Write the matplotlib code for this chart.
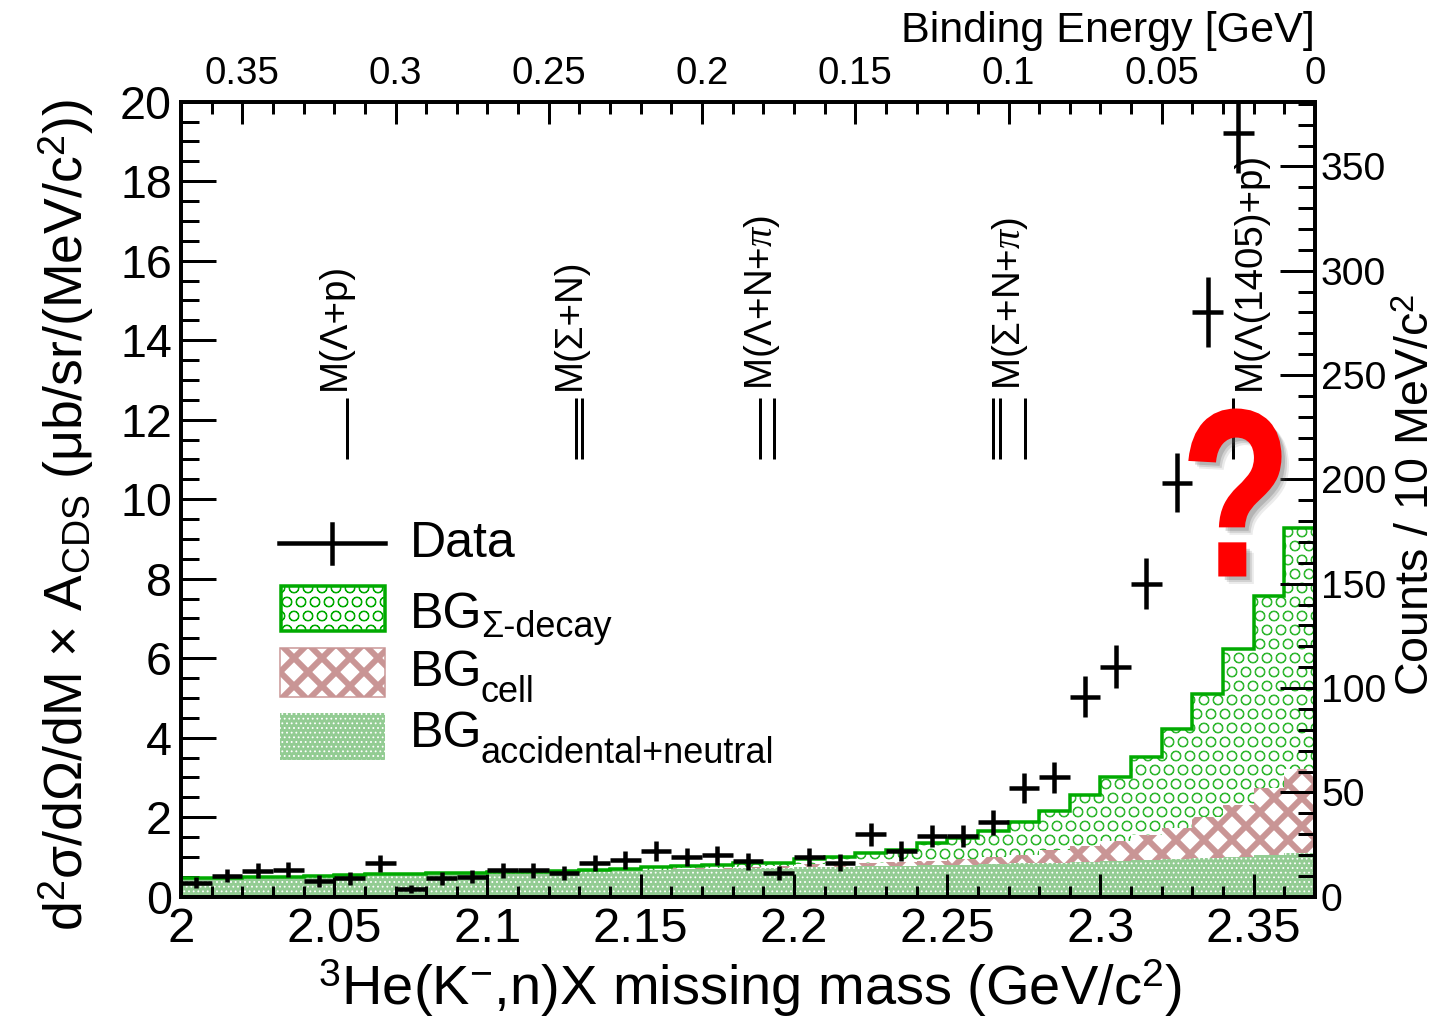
import numpy as np
import matplotlib
matplotlib.use("Agg")
import matplotlib.pyplot as plt
from matplotlib.ticker import MultipleLocator, FuncFormatter
from matplotlib.patches import Rectangle, PathPatch
from matplotlib.lines import Line2D
from matplotlib.textpath import TextPath
from matplotlib.font_manager import FontProperties
from matplotlib.transforms import Affine2D

# ---------------- data ----------------
bin_edges = np.round(np.linspace(2.00, 2.37, 38), 3)      # 10 MeV bins
data_vals = [0.35, 0.53, 0.65, 0.68, 0.40, 0.46, 0.84, 0.19, 0.46, 0.50,
             0.67, 0.67, 0.60, 0.85, 0.92, 1.16, 1.00, 1.04, 0.89, 0.59,
             1.00, 0.86, 1.57, 1.15, 1.52, 1.52, 1.87, 2.74, 3.00, 5.03,
             5.79, 7.87, 10.42, 14.72, 19.20]
data_errs = [0.14, 0.17, 0.19, 0.19, 0.15, 0.16, 0.21, 0.10, 0.16, 0.16,
             0.19, 0.19, 0.18, 0.21, 0.22, 0.25, 0.23, 0.23, 0.22, 0.18,
             0.23, 0.21, 0.29, 0.25, 0.28, 0.28, 0.31, 0.38, 0.40, 0.52,
             0.55, 0.64, 0.74, 0.88, 1.00]
bin_half_width = 0.005

bg_accidental = [0.46, 0.46, 0.47, 0.48, 0.52, 0.53, 0.54, 0.56, 0.57, 0.58,
                 0.60, 0.61, 0.62, 0.64, 0.66, 0.67, 0.69, 0.70, 0.71, 0.72,
                 0.74, 0.75, 0.76, 0.78, 0.79, 0.81, 0.82, 0.84, 0.86, 0.88,
                 0.90, 0.93, 0.95, 0.98, 1.01, 1.05, 1.10]
bg_cell = [0.00, 0.00, 0.00, 0.00, 0.00, 0.00, 0.00, 0.00, 0.00, 0.00,
           0.00, 0.00, 0.00, 0.00, 0.00, 0.01, 0.02, 0.03, 0.04, 0.06,
           0.08, 0.09, 0.10, 0.10, 0.10, 0.14, 0.17, 0.21, 0.31, 0.40,
           0.51, 0.62, 0.79, 1.03, 1.30, 1.68, 2.11]
bg_sigma = [0.02, 0.02, 0.02, 0.02, 0.01, 0.02, 0.02, 0.02, 0.02, 0.02,
            0.02, 0.02, 0.03, 0.03, 0.03, 0.06, 0.05, 0.07, 0.09, 0.08,
            0.13, 0.17, 0.24, 0.30, 0.47, 0.52, 0.67, 0.84, 0.99, 1.29,
            1.59, 1.97, 2.49, 3.10, 3.92, 4.84, 6.07]

threshold_groups = [[2.0540], [2.1289, 2.1309], [2.1890, 2.1935],
                    [2.2650, 2.2672, 2.2753], [2.3433]]
threshold_labels = ["M(Λ+p)", "M(Σ+N)", r"M(Λ+N+$\pi$)", r"M(Σ+N+$\pi$)",
                    "M(Λ(1405)+p)"]
threshold_label_x = [2.0503, 2.1270, 2.1896, 2.2705, 2.3488]

be_zero_mass = 2.37          # binding energy = 2.37 - M
counts_per_unit = 19.05      # right axis scale factor

# ---------------- style ----------------
W, H, DPI = 1443, 1017, 84
plt.rcParams['font.family'] = ['Liberation Sans', 'DejaVu Sans']
plt.rcParams['mathtext.fontset'] = 'custom'
plt.rcParams['mathtext.rm'] = 'Liberation Sans'
plt.rcParams['mathtext.it'] = 'Liberation Serif:italic'
plt.rcParams['mathtext.bf'] = 'Liberation Sans:bold'
plt.rcParams['mathtext.sf'] = 'Liberation Sans'


def pt(px):
    return px * 72.0 / DPI


def fx(px):
    return px / W


def fy(py):
    return 1 - py / H


def hatch_lw(artist, lw):
    if hasattr(artist, 'set_hatch_linewidth'):
        artist.set_hatch_linewidth(lw)
    return artist


GREEN_LINE = '#00aa00'
GREEN_CIRC = '#33b833'
PINK = '#c99595'
ACC_FACE = '#93cc93'

LW_DOTS, LW_CROSS, LW_CIRC = pt(1.0), pt(6.0), pt(1.1)

fig = plt.figure(figsize=(W / DPI, H / DPI), dpi=DPI)
ax = fig.add_axes([fx(181), fy(896.7), (1315 - 181) / W, (896.7 - 101.7) / H])

edges = np.array(bin_edges)
acc = np.array(bg_accidental)
cell_top = acc + np.array(bg_cell)
total = cell_top + np.array(bg_sigma)

with plt.rc_context({'hatch.linewidth': LW_DOTS}):
    a1 = ax.stairs(acc, edges, baseline=0, fill=True, facecolor=ACC_FACE,
                   edgecolor='white', hatch='...', linewidth=0, zorder=1)
hatch_lw(a1, LW_DOTS)
with plt.rc_context({'hatch.linewidth': LW_CROSS}):
    a2 = ax.stairs(cell_top, edges, baseline=acc, fill=True, facecolor='white',
                   edgecolor=PINK, hatch='x', linewidth=0, zorder=1)
hatch_lw(a2, LW_CROSS)
with plt.rc_context({'hatch.linewidth': LW_CIRC}):
    a3 = ax.stairs(total, edges, baseline=cell_top, fill=True, facecolor='white',
                   edgecolor=GREEN_CIRC, hatch='O', linewidth=0, zorder=1)
hatch_lw(a3, LW_CIRC)
ax.stairs(total, edges, baseline=None, color=GREEN_LINE, linewidth=pt(3.5),
          zorder=2)

centers = 0.5 * (edges[:-1] + edges[1:])
ax.errorbar(centers[:len(data_vals)], data_vals, xerr=bin_half_width,
            yerr=data_errs, fmt='none', ecolor='black', elinewidth=pt(4.5),
            capsize=0, zorder=5)

for grp, lab, lx in zip(threshold_groups, threshold_labels, threshold_label_x):
    ax.vlines(grp, 11.0, 12.55, color='black', linewidth=pt(3), zorder=4)
    ax.text(lx, 12.75, lab, rotation=90, ha='center', va='bottom',
            fontsize=33, zorder=4)

ax.set_xlim(edges[0], edges[-1])
ax.set_ylim(0, 20)
fmt = FuncFormatter(lambda v, p: '%g' % round(v, 4))
ax.xaxis.set_major_locator(MultipleLocator(0.05))
ax.xaxis.set_minor_locator(MultipleLocator(0.01))
ax.yaxis.set_major_locator(MultipleLocator(2))
ax.yaxis.set_minor_locator(MultipleLocator(0.5))
ax.xaxis.set_major_formatter(fmt)
ax.yaxis.set_major_formatter(fmt)
ax.tick_params(axis='x', which='major', direction='in', length=pt(23),
               width=pt(3), labelsize=42, pad=pt(10), top=False)
ax.tick_params(axis='x', which='minor', direction='in', length=pt(11),
               width=pt(3), top=False)
ax.tick_params(axis='y', which='major', direction='in', length=pt(35),
               width=pt(3), labelsize=40, pad=pt(9), right=False)
ax.tick_params(axis='y', which='minor', direction='in', length=pt(18),
               width=pt(3), right=False)
for s in ax.spines.values():
    s.set_linewidth(pt(3.5))

axr = ax.twinx()
axr.set_ylim(0, 20 * counts_per_unit)
axr.yaxis.set_major_locator(MultipleLocator(50))
axr.yaxis.set_minor_locator(MultipleLocator(10))
axr.yaxis.set_major_formatter(fmt)
axr.tick_params(axis='y', which='major', direction='in', length=pt(35),
                width=pt(3), labelsize=33.5, pad=pt(6))
axr.tick_params(axis='y', which='minor', direction='in', length=pt(17),
                width=pt(3))

axt = ax.twiny()
axt.set_xlim(be_zero_mass - edges[0], be_zero_mass - edges[-1])
axt.xaxis.set_major_locator(MultipleLocator(0.05))
axt.xaxis.set_minor_locator(MultipleLocator(0.01))
axt.xaxis.set_major_formatter(fmt)
axt.tick_params(axis='x', which='major', direction='in', length=pt(22),
                width=pt(3), labelsize=33, pad=pt(10))
axt.tick_params(axis='x', which='minor', direction='in', length=pt(12),
                width=pt(3))
for a in (axr, axt):
    for s in a.spines.values():
        s.set_linewidth(pt(3.5))

# ---------------- axis titles ----------------
fig.text(fx(750), fy(1005), r"$^{3}$He(K$^{-}$,n)X missing mass (GeV/c$^{2}$)",
         ha='center', va='baseline', fontsize=48)
fig.text(fx(66), fy(515),
         r"d$^{2}$σ/dΩ/dM × A$_{\mathrm{CDS}}$ (μb/sr/(MeV/c$^{2}$))",
         rotation=90, ha='center', va='center', fontsize=46)
fig.text(fx(1417), fy(495), r"Counts / 10 MeV/c$^{2}$", rotation=90,
         ha='center', va='center', fontsize=40)
fig.text(fx(1315), fy(42), "Binding Energy [GeV]", ha='right',
         va='baseline', fontsize=37)

# ---------------- legend ----------------
fig.add_artist(Line2D([fx(279), fx(385)], [fy(543), fy(543)], color='black',
                      linewidth=pt(4.5)))
fig.add_artist(Line2D([fx(332), fx(332)], [fy(524), fy(563)], color='black',
                      linewidth=pt(4.5)))
with plt.rc_context({'hatch.linewidth': LW_CIRC}):
    r1 = fig.add_artist(Rectangle((fx(281), fy(631)), fx(385) - fx(281),
                                  fy(586) - fy(631), transform=fig.transFigure,
                                  facecolor='white', edgecolor=GREEN_LINE,
                                  hatch='O', linewidth=pt(3.5)))
hatch_lw(r1, LW_CIRC)
with plt.rc_context({'hatch.linewidth': LW_CROSS}):
    r2 = fig.add_artist(Rectangle((fx(280), fy(697)), fx(385) - fx(280),
                                  fy(648) - fy(697), transform=fig.transFigure,
                                  facecolor='white', edgecolor=PINK, hatch='x',
                                  linewidth=pt(1.5)))
hatch_lw(r2, LW_CROSS)
with plt.rc_context({'hatch.linewidth': LW_DOTS}):
    r3 = fig.add_artist(Rectangle((fx(280), fy(760)), fx(385) - fx(280),
                                  fy(713) - fy(760), transform=fig.transFigure,
                                  facecolor=ACC_FACE, edgecolor='white',
                                  hatch='...', linewidth=0))
hatch_lw(r3, LW_DOTS)
fig.text(fx(410), fy(557), "Data", fontsize=43, va='baseline')
for base, sub_base, sub in [(628, 637, "Σ-decay"), (686, 702, "cell"),
                            (747, 763, "accidental+neutral")]:
    fig.text(fx(410), fy(base), "BG", fontsize=43, va='baseline')
    fig.text(fx(481), fy(sub_base), sub, fontsize=31, va='baseline')

# ---------------- red question mark ----------------
tp = TextPath((0, 0), "?", size=100,
              prop=FontProperties(family='Liberation Sans', weight='bold'))
ext = tp.get_extents()
x0, x1, y0, y1 = fx(1190), fx(1280), fy(575), fy(410)


def qtrans(dx, dy):
    return (Affine2D().translate(-ext.x0, -ext.y0)
            .scale((x1 - x0) / ext.width, (y1 - y0) / ext.height)
            .translate(x0 + dx / W, y0 - dy / H) + fig.transFigure)


for d, a in [(9, 0.12), (7, 0.18), (5, 0.25)]:
    fig.add_artist(PathPatch(tp, transform=qtrans(d, d), facecolor='#606060',
                             edgecolor='none', alpha=a))
fig.add_artist(PathPatch(tp, transform=qtrans(0, 0), facecolor='#ff0000',
                         edgecolor='#ff0000', linewidth=pt(3)))

fig.savefig("out.png", dpi=DPI)
